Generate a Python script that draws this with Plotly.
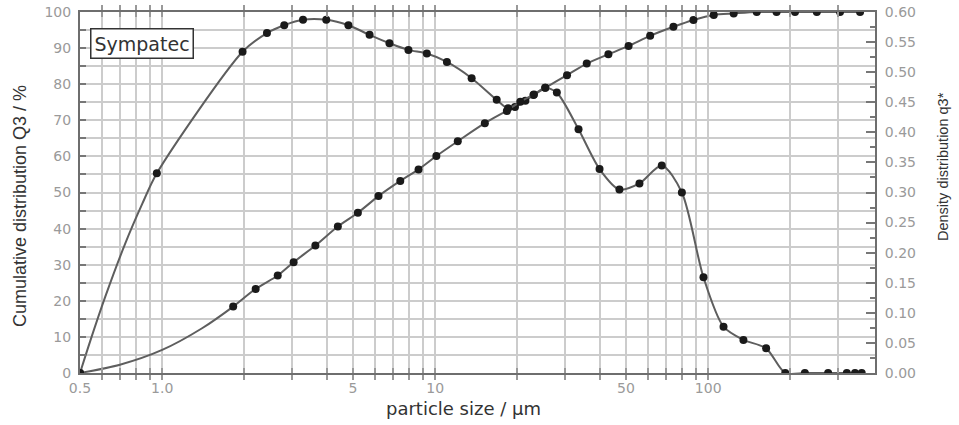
import plotly.graph_objects as go

# ---- data ----
# Cumulative distribution Q3 (%), left axis
cum_size = [0.5, 0.7, 1.0, 1.4, 1.82, 2.20, 2.65, 3.03, 3.64, 4.40, 5.21, 6.20, 7.45, 8.69,
            10.1, 12.1, 15.2, 18.3, 19.6, 21.4, 22.9, 25.3, 30.4, 35.9, 43.1, 51.1, 61.3,
            74.6, 88.3, 104.8, 124, 150.6, 178, 208, 250, 304, 360]
cum_value = [0, 2.3, 6.4, 12.4, 18.4, 23.3, 27.0, 30.7, 35.3, 40.6, 44.4, 49.0, 53.2, 56.4,
             60.1, 64.2, 69.2, 72.6, 73.7, 75.4, 77.0, 79.0, 82.5, 85.7, 88.3, 90.6, 93.4,
             95.9, 97.8, 99.2, 99.6, 100, 100, 100, 100, 100, 100]
cum_measured = [True, False, False, False] + [True] * 33

# Density distribution q3*, right axis
den_size = [0.5, 0.545, 0.618, 0.732, 0.845, 0.956, 1.97, 2.42, 2.80, 3.28, 3.99, 4.81,
            5.75, 6.80, 7.98, 9.32, 11.04, 13.6, 16.8, 18.5, 20.5, 23.0, 25.3, 27.9, 33.5,
            40.0, 47.3, 56.0, 67.6, 80.1, 96.1, 113.8, 134.6, 163, 191.5, 226, 275, 322, 345, 365]
den_value = [0, 0.053, 0.126, 0.215, 0.281, 0.332, 0.534, 0.565, 0.578, 0.587, 0.587,
             0.578, 0.562, 0.548, 0.537, 0.531, 0.517, 0.490, 0.454, 0.440, 0.451, 0.463, 0.474,
             0.466, 0.405, 0.339, 0.305, 0.315, 0.345, 0.300, 0.159, 0.077, 0.055, 0.041,
             0, 0, 0, 0, 0, 0]
den_measured = [True, False, False, False, False] + [True] * 35

x_grid = [0.5, 0.6, 0.7, 0.8, 0.9, 1, 2, 3, 4, 5, 6, 7, 8, 9, 10, 20, 30, 40, 50, 60, 70, 80,
          90, 100, 200, 300]
x_labels = {0.5: "0.5", 1: "1.0", 5: "5", 10: "10", 50: "50", 100: "100"}
y_left_ticks = list(range(0, 101, 5))
y_right_ticks = [i * 0.05 for i in range(13)]

# ---- figure ----
LINE = "#5e5e5e"
MARK = "#1a1a1a"
GRID = "#cccccc"
AXIS = "#6e6e6e"
TICKFONT = dict(family="DejaVu Sans", size=14, color="#9a9a9a")
TITLE_COLOR = "#333333"

fig = go.Figure()

fig.add_trace(go.Scatter(x=cum_size, y=cum_value, mode="lines",
                         line=dict(color=LINE, width=2, shape="spline", smoothing=0.8),
                         yaxis="y", showlegend=False, hoverinfo="skip"))
fig.add_trace(go.Scatter(x=[s for s, m in zip(cum_size, cum_measured) if m],
                         y=[v for v, m in zip(cum_value, cum_measured) if m],
                         mode="markers", marker=dict(color=MARK, size=8),
                         yaxis="y", showlegend=False))
fig.add_trace(go.Scatter(x=den_size, y=den_value, mode="lines",
                         line=dict(color=LINE, width=2, shape="spline", smoothing=0.8),
                         yaxis="y2", showlegend=False, hoverinfo="skip"))
fig.add_trace(go.Scatter(x=[s for s, m in zip(den_size, den_measured) if m],
                         y=[v for v, m in zip(den_value, den_measured) if m],
                         mode="markers", marker=dict(color=MARK, size=8),
                         yaxis="y2", showlegend=False))

fig.update_layout(
    width=959, height=425,
    margin=dict(l=80, r=84, t=12, b=52),
    paper_bgcolor="white", plot_bgcolor="white",
    font=dict(family="Liberation Sans", color=TITLE_COLOR),
    xaxis=dict(
        type="log", range=[-0.301, 2.611], automargin=False,
        tickvals=x_grid, ticktext=[x_labels.get(v, "") for v in x_grid],
        tickfont=TICKFONT, ticks="inside", ticklen=5, tickwidth=2, tickcolor="#999999",
        ticklabelstandoff=1,
        showgrid=True, gridcolor=GRID, gridwidth=2,
        showline=True, linecolor=AXIS, linewidth=2, mirror="allticks",
        zeroline=False,
    ),
    yaxis=dict(
        range=[0, 100], automargin=False,
        tickvals=y_left_ticks,
        ticktext=[str(v) if v % 10 == 0 else "" for v in y_left_ticks],
        tickfont=TICKFONT, ticks="inside", ticklen=6, tickwidth=2, tickcolor="#777777",
        ticklabelstandoff=4,
        showgrid=True, gridcolor=GRID, gridwidth=2,
        showline=True, linecolor=AXIS, linewidth=2, zeroline=False,
    ),
    yaxis2=dict(
        range=[0, 0.6], overlaying="y", side="right", automargin=False,
        tickvals=y_right_ticks, tickformat=".2f",
        tickfont=TICKFONT, ticks="inside", ticklen=9, tickwidth=2, tickcolor="#777777",
        ticklabelstandoff=5,
        minor=dict(dtick=0.025, ticks="inside", ticklen=5, tickwidth=2, tickcolor="#777777",
                   showgrid=False),
        showgrid=False, showline=True, linecolor=AXIS, linewidth=2, zeroline=False,
    ),
    annotations=[
        dict(text="Sympatec", xref="paper", yref="paper", x=0.0126, y=0.955,
             xanchor="left", yanchor="top", showarrow=False,
             font=dict(family="DejaVu Sans", size=19, color=TITLE_COLOR),
             bordercolor="#333333", borderwidth=1.5, borderpad=3, bgcolor="white"),
        dict(text="particle size / µm", xref="paper", yref="paper",
             x=(463 - 80) / 795, y=-(408 - 373) / 361, xanchor="center", yanchor="middle",
             showarrow=False, font=dict(family="DejaVu Sans", size=18, color=TITLE_COLOR)),
        dict(text="Cumulative distribution Q3 / %", xref="paper", yref="paper",
             x=(20 - 80) / 795, y=(373 - 206) / 361, xanchor="center", yanchor="middle",
             textangle=-90, showarrow=False,
             font=dict(family="Liberation Sans", size=18, color=TITLE_COLOR)),
        dict(text="Density distribution q3*", xref="paper", yref="paper",
             x=(943 - 80) / 795, y=(373 - 167) / 361, xanchor="center", yanchor="middle",
             textangle=-90, showarrow=False,
             font=dict(family="Liberation Sans", size=14.5, color=TITLE_COLOR)),
    ],
)

fig.write_html("out.html")
